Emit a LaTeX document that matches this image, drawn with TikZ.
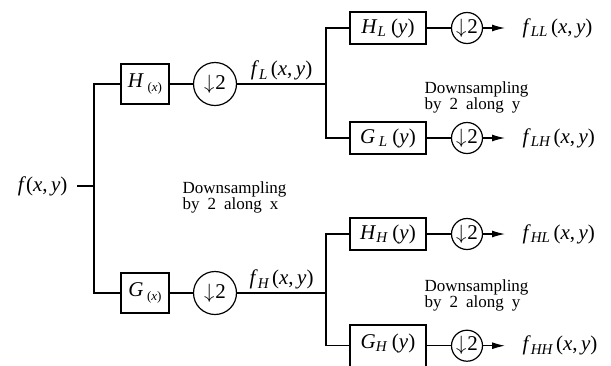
\documentclass[tikz,border=0pt]{standalone}
\usepackage{fontspec}
\setmainfont{Liberation Serif}
\usetikzlibrary{arrows.meta, positioning, calc}

\newcommand{\sub}[2][15]{\raisebox{-3.5pt}{\fontsize{#1}{#1}\selectfont\itshape #2}}
\newcommand{\xy}{(\textit{x},\,\textit{y})}
\newcommand{\sig}[1]{\textit{f}\sub{#1}\,\xy}
\newcommand{\dtwo}{$\downarrow$\kern1pt2}
\newcommand{\widewords}{\spaceskip=8pt\relax}

\begin{document}
\begin{tikzpicture}[x=1pt, y=-1pt, line width=1.2pt,
    lbl/.style={font=\fontsize{21}{24}\selectfont, inner sep=1pt},
    filt/.style={draw, rectangle, font=\fontsize{21}{24}\selectfont, inner sep=2pt},
    bigds/.style={draw, circle, minimum size=43pt, inner sep=0pt, font=\fontsize{21}{24}\selectfont},
    smallds/.style={draw, circle, minimum size=31pt, inner sep=0pt, font=\fontsize{21}{24}\selectfont},
    note/.style={font={\fontsize{17}{15}\selectfont\widewords}, align=left, anchor=north west, inner sep=0pt},
    arr/.style={-{Latex[length=13pt,width=7pt]}, shorten >=17pt}]
    \useasboundingbox (0,0) rectangle (611,365);
    \clip (0,0) rectangle (611,365);

    % first stage, along x
    \node (fin) [lbl, anchor=east] at (69,186) {\textit{f}\xy};
    \coordinate (j1) at (94,186);
    \node (Hx) [filt, minimum width=48pt, minimum height=40pt] at (145,84) {\textit{H}\,\sub[13]{\upshape(\textit{x})}};
    \node (Gx) [filt, minimum width=48pt, minimum height=40pt] at (145,293) {\textit{G}\,\sub[13]{\upshape(\textit{x})}};
    \node (d1) [bigds] at (215,84) {\dtwo};
    \node (d2) [bigds] at (215,293) {\dtwo};
    \coordinate (j2) at (326,84);
    \coordinate (j3) at (326,293);

    % second stage, along y
    \node (HL) [filt, minimum width=76pt, minimum height=32pt] at (388,28) {\textit{H}\sub{L}\ (\textit{y})};
    \node (GL) [filt, minimum width=76pt, minimum height=32pt] at (388,138) {\textit{G}\,\sub{L}\ (\textit{y})};
    \node (HH) [filt, minimum width=76pt, minimum height=32pt] at (388,234) {\textit{H}\sub{H}\ (\textit{y})};
    \node (GH) [filt, minimum width=76pt, text height=21pt, text depth=24pt, anchor=base] at (388,348) {\textit{G}\sub{H}\ (\textit{y})};
    \node (dLL) [smallds] at (467,28) {\dtwo};
    \node (dLH) [smallds] at (467,138) {\dtwo};
    \node (dHL) [smallds] at (467,234) {\dtwo};
    \node (dHH) [smallds] at (GH.mid -| dHL) {\dtwo};
    \node (oLL) [lbl, anchor=west, inner sep=0pt] at (522,28) {\sig{LL}};
    \node (oLH) [lbl, anchor=west, inner sep=0pt] at (522,138) {\sig{LH}};
    \node (oHL) [lbl, anchor=west, inner sep=0pt] at (522,234) {\sig{HL}};
    \node (oHH) [lbl, anchor=west, inner sep=0pt] at (GH.mid -| oHL.west) {\sig{HH}};

    \node (nx) [note] at (182,181) {Downsampling\\by 2 along x};
    \node (ny1) [note] at (424,81) {Downsampling\\by 2 along y};
    \node (ny2) [note] at (424,279) {Downsampling\\by 2 along y};

    \draw [shorten <=8pt] (fin) -- (j1);
    \draw (Hx.west) -| (j1) |- (Gx.west);
    \draw (Hx) -- (d1);
    \draw (Gx) -- (d2);
    \draw (d1) -- node[lbl, above=2pt] {\sig{L}} (j2);
    \draw (d2) -- node[lbl, above=2pt] {\sig{H}} (j3);
    \draw (HL.west) -| (j2) |- (GL.west);
    \draw (HH.west) -| (j3) |- (GH.mid west);
    \draw (HL) -- (dLL);
    \draw (GL) -- (dLH);
    \draw (HH) -- (dHL);
    \draw (GH.mid east) -- (dHH);
    \draw [arr] (dLL) -- (oLL);
    \draw [arr] (dLH) -- (oLH);
    \draw [arr] (dHL) -- (oHL);
    \draw [arr] (dHH) -- (oHH);
\end{tikzpicture}
\end{document}
